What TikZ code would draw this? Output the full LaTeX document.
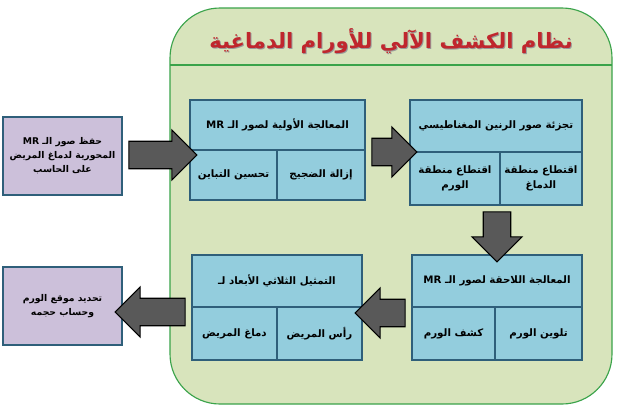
\documentclass[tikz,border=0pt]{standalone}
\usepackage{fontspec}
\newfontfamily\arabicfont[Script=Arabic]{DejaVu Sans}
\TeXXeTstate=1
\usetikzlibrary{shapes.arrows,positioning}
\definecolor{framegreen}{HTML}{3AA34A}
\definecolor{framefill}{HTML}{D8E4BC}
\definecolor{cellfill}{HTML}{93CDDD}
\definecolor{celldraw}{HTML}{2F5F7A}
\definecolor{ioFill}{HTML}{CCC0DA}
\definecolor{arrowgray}{HTML}{595959}
\definecolor{titlered}{HTML}{C0262D}
\tikzset{
  cell/.style={rectangle,draw=celldraw,fill=cellfill,thick,align=center,
    font=\arabicfont\bfseries\fontsize{7.3}{10.5}\selectfont,inner sep=1pt},
  iobox/.style={rectangle,draw=celldraw,fill=ioFill,thick,align=center,
    font=\arabicfont\bfseries\fontsize{6.6}{10}\selectfont,inner sep=1pt},
  blockarr/.style={single arrow,draw=black,fill=arrowgray,thick,
    inner sep=0.33cm,single arrow head extend=0.28cm}
}
% cell: name, x, y, width, height (pixels), text
\newcommand{\cellbox}[6]{%
  \node[cell,minimum width=#4*0.025cm,minimum height=#5*0.025cm] (#1) at (#2,#3) {#6};}
\newcommand{\ar}[1]{\beginR #1\endR}
\begin{document}
\begin{tikzpicture}[x=0.025cm,y=-0.025cm]
  \useasboundingbox[fill=white] (0,0) rectangle (617,409);

  % frame
  \draw[framegreen,thick,fill=framefill,rounded corners=1.25cm] (170,8) rectangle (612,404);
  \draw[framegreen,thick] (170,65) -- (612,65);
  \node[font=\arabicfont\bfseries\fontsize{15}{18}\selectfont,text=black!40] at (392,42) {\ar{نظام الكشف الآلي للأورام الدماغية}};
  \node[font=\arabicfont\bfseries\fontsize{15}{18}\selectfont,text=titlered] (title) at (391,41) {\ar{نظام الكشف الآلي للأورام الدماغية}};

  % input / output
  \node[iobox,minimum width=119*0.025cm,minimum height=78*0.025cm] (in) at (62.5,156)
    {\ar{حفظ صور الـ \beginL MR\endL}\\ \ar{المحورية لدماغ المريض}\\ \ar{على الحاسب}};
  \node[iobox,minimum width=119*0.025cm,minimum height=78*0.025cm] (out) at (62.5,306)
    {\ar{تحديد موقع الورم}\\ \ar{وحساب حجمه}};

  % preprocessing
  \cellbox{pre}{277.5}{125}{175}{50}{\ar{المعالجة الأولية لصور الـ \beginL MR\endL}}
  \cellbox{noise}{321}{175}{88}{50}{\ar{إزالة الضجيج}}
  \cellbox{contrast}{233.5}{175}{87}{50}{\ar{تحسين التباين}}

  % segmentation
  \cellbox{seg}{496}{126}{172}{52}{\ar{تجزئة صور الرنين المغناطيسي}}
  \cellbox{brain}{541}{178.5}{82}{53}{\ar{اقتطاع منطقة}\\ \ar{الدماغ}}
  \cellbox{tumor}{455}{178.5}{90}{53}{\ar{اقتطاع منطقة}\\ \ar{الورم}}

  % postprocessing
  \cellbox{post}{497}{281}{170}{52}{\ar{المعالجة اللاحقة لصور الـ \beginL MR\endL}}
  \cellbox{color}{538.5}{333.5}{87}{53}{\ar{تلوين الورم}}
  \cellbox{detect}{453.5}{333.5}{83}{53}{\ar{كشف الورم}}

  % 3D
  \cellbox{threed}{277}{281}{170}{52}{\ar{التمثيل الثلاثي الأبعاد لـ}}
  \cellbox{head}{319.5}{333.5}{85}{53}{\ar{رأس المريض}}
  \cellbox{pbrain}{234.5}{333.5}{85}{53}{\ar{دماغ المريض}}

  % arrows
  \node[blockarr,minimum height=68*0.025cm] (a1) at (156,155) {};
  \node[blockarr,minimum height=45*0.025cm] (a2) at (387.5,152) {};
  \node[blockarr,minimum height=50*0.025cm,shape border rotate=270] (a3) at (497,230) {};
  \node[blockarr,minimum height=50*0.025cm,shape border rotate=180] (a4) at (387,313) {};
  \node[blockarr,minimum height=70*0.025cm,shape border rotate=180] (a5) at (157,312) {};
\end{tikzpicture}
\end{document}
